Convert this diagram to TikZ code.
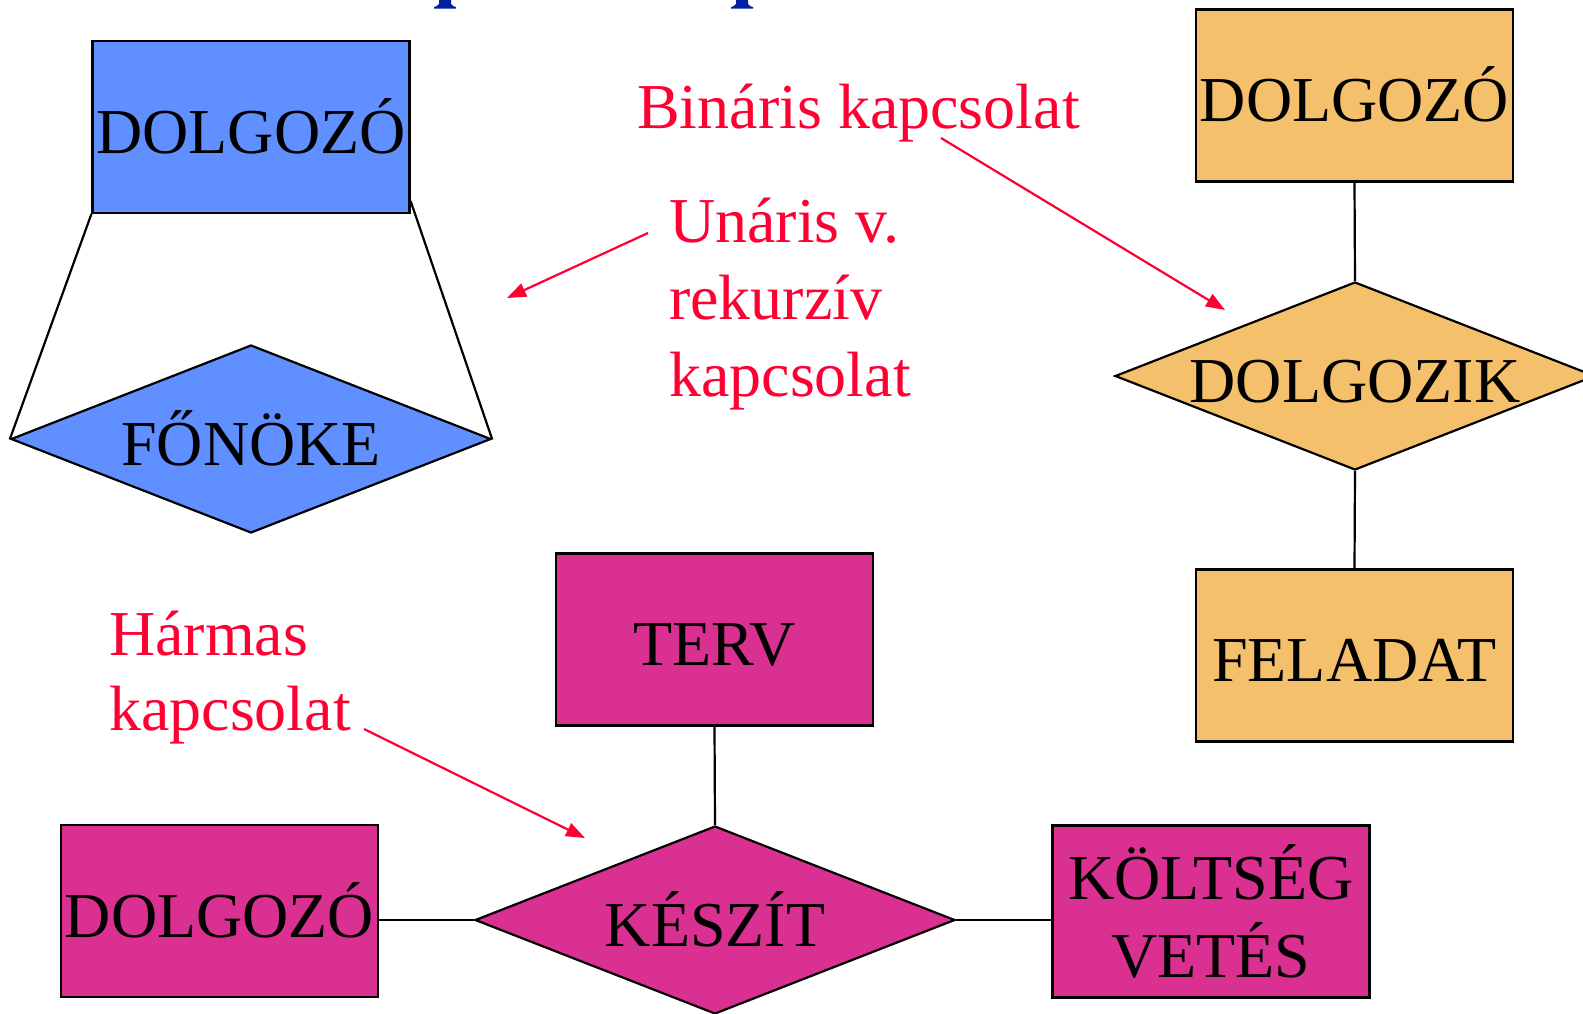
\documentclass[tikz,border=0pt]{standalone}
\usepackage{fontspec}
\setmainfont{Liberation Serif}
\usetikzlibrary{shapes.geometric,arrows.meta,calc}
\definecolor{bluec}{RGB}{96,144,255}
\definecolor{orangec}{RGB}{245,192,107}
\definecolor{magc}{RGB}{217,48,145}
\definecolor{redc}{RGB}{255,0,51}
\definecolor{titleblue}{RGB}{0,32,160}
\newcommand{\erfont}{\fontsize{64}{77}\selectfont}
\newcommand{\erfontb}{\fontsize{64}{75}\selectfont}
\newcommand{\erfontc}{\fontsize{64}{78}\selectfont}
\begin{document}
\begin{tikzpicture}[x=1pt,y=-1pt,
  ent/.style={draw=black, line width=2.3pt, rectangle, minimum width=317pt, minimum height=172pt, inner sep=0pt, text height=52pt, text depth=0pt, font=\erfont},
  rel/.style={draw=black, line width=2.2pt, diamond, aspect=2.553, minimum width=480pt, minimum height=188pt, inner sep=0pt, text height=52pt, text depth=0pt, font=\erfont},
  conn/.style={draw=black, line width=2.2pt},
  note/.style={text=redc, font=\erfont, inner sep=0pt, anchor=base west},
  pointer/.style={draw=redc, line width=2.2pt, -{Triangle[length=19pt,width=14pt]}}
]
\useasboundingbox (0,0) rectangle (1583,1013);

% cut-off title fragments
\fill[titleblue] (439,0) -- (451,0) -- (451,4) .. controls (452,6) and (454,6.5) .. (456,7) -- (456,8.5) -- (434,8.5) -- (434,7) .. controls (436,6.5) and (438,6) .. (439,4) -- cycle;
\fill[titleblue] (736,0) -- (748,0) -- (748,4) .. controls (749,6) and (751,6.5) .. (753,7) -- (753,8.5) -- (731,8.5) -- (731,7) .. controls (733,6.5) and (735,6) .. (736,4) -- cycle;

% unary
\node[ent, fill=bluec] (b1) at (251,127) {DOLGOZÓ};
\node[rel, fill=bluec] (bd) at (251,439) {FŐNÖKE};
\draw[conn] (b1.south west) -- (bd.west);
\draw[conn] ($(b1.south east)+(0,-13)$) -- (bd.east);

% binary
\node[ent, fill=orangec] (o1) at (1354.5,95.5) {DOLGOZÓ};
\node[rel, fill=orangec] (od) at (1355,376) {DOLGOZIK};
\node[ent, fill=orangec] (o2) at (1354.5,655.5) {FELADAT};
\draw[conn] (o1.south) -- (od.north);
\draw[conn] (od.south) -- (o2.north);

% ternary
\node[ent, fill=magc] (terv) at (714.5,639.5) {TERV};
\node[rel, fill=magc] (kd) at (715,920) {KÉSZÍT};
\node[ent, fill=magc] (md) at (219.5,911) {DOLGOZÓ};
\node[ent, fill=magc] (kv) at (1211,911.5) {};
\node[font=\erfontc, anchor=base, inner sep=0pt] (kvt) at (1211,899) {\begin{tabular}[t]{@{}c@{}}KÖLTSÉG\\VETÉS\end{tabular}};
\draw[conn] (terv.south) -- (kd.north);
\draw[conn] (kd.west) -- (kd.west -| md.east);
\draw[conn] (kd.east) -- (kd.east -| kv.west);

% red notes
\node[note] (nbin) at (637,128) {Bináris kapcsolat};
\node[note] (nun) at (669,242) {\begin{tabular}[t]{@{}l@{}}Unáris v.\\rekurzív\\kapcsolat\end{tabular}};
\node[note, font=\erfontb] (nhar) at (109,655) {\begin{tabular}[t]{@{}l@{}}Hármas\\kapcsolat\end{tabular}};

\coordinate (ua1) at (648,233);
\coordinate (ua2) at (507,298);
\coordinate (ba1) at (941,138);
\coordinate (ba2) at (1225,310);
\coordinate (ha1) at (364,729);
\coordinate (ha2) at (585,838);
\draw[pointer] (ua1) -- (ua2);
\draw[pointer] (ba1) -- (ba2);
\draw[pointer] (ha1) -- (ha2);
\end{tikzpicture}
\end{document}
